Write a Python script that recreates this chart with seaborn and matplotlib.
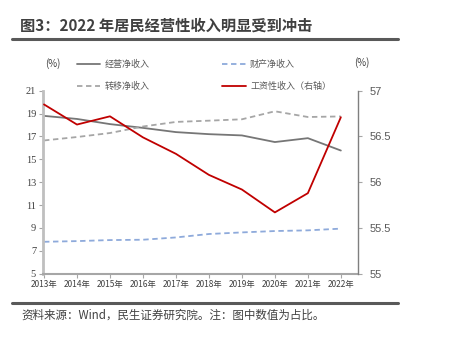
import matplotlib
matplotlib.use("Agg")
import matplotlib.pyplot as plt
import seaborn as sns
import pandas as pd
from matplotlib.lines import Line2D

sns.set_theme(style="white")
plt.rcParams['font.family'] = ['Noto Sans CJK SC', 'DejaVu Sans']

years = ["2013年", "2014年", "2015年", "2016年", "2017年", "2018年", "2019年", "2020年", "2021年", "2022年"]
business = [18.8, 18.53, 18.08, 17.75, 17.38, 17.2, 17.09, 16.51, 16.85, 15.77]
transfer = [16.65, 16.95, 17.3, 17.87, 18.27, 18.38, 18.5, 19.2, 18.7, 18.75]
property_ = [7.79, 7.85, 7.94, 7.97, 8.17, 8.47, 8.61, 8.73, 8.79, 8.94]
wage = [56.85, 56.63, 56.72, 56.49, 56.31, 56.08, 55.92, 55.67, 55.88, 56.71]
left_ticks = [5, 7, 9, 11, 13, 15, 17, 19, 21]
right_ticks = [55, 55.5, 56, 56.5, 57]

df = pd.DataFrame({"x": list(range(len(years))), "business": business,
                   "transfer": transfer, "property": property_, "wage": wage})

W, H = 453, 347
fig = plt.figure(figsize=(W / 100, H / 100), dpi=100)
ax = fig.add_axes([43 / W, 1 - 273.7 / H, (358 - 43) / W, (273.7 - 90.7) / H])
ax2 = ax.twinx()

c_bus, c_tr, c_prop, c_wage = "#767676", "#a6a6a6", "#8eaadb", "#c00000"
sns.lineplot(data=df, x="x", y="business", ax=ax, color=c_bus, linewidth=1.3)
sns.lineplot(data=df, x="x", y="transfer", ax=ax, color=c_tr, linewidth=1.3, linestyle=(0, (3, 2)))
sns.lineplot(data=df, x="x", y="property", ax=ax, color=c_prop, linewidth=1.3, linestyle=(0, (3, 2)))
sns.lineplot(data=df, x="x", y="wage", ax=ax2, color=c_wage, linewidth=1.3)

ax.set_xlim(-0.03, 9.52)
ax.set_ylim(5, 21)
ax2.set_ylim(55, 57)
ax.set_yticks(left_ticks)
ax.set_yticklabels([str(t) for t in left_ticks], family="Liberation Serif", fontsize=7.5, color="#404040")
ax2.set_yticks(right_ticks)
ax2.set_yticklabels([f"{t:g}" for t in right_ticks], family="Liberation Sans", fontsize=8, color="#595959")
ax.set_xticks(range(len(years)))
ax.set_xticklabels(years, fontsize=6, color="#404040")
for a in (ax, ax2):
    a.set_xlabel("")
    a.set_ylabel("")
    a.grid(False)
    a.spines["top"].set_visible(False)
ax.spines["right"].set_visible(False)
ax.spines["left"].set_color("#bfbfbf")
ax.spines["left"].set_linewidth(2.0)
ax.spines["bottom"].set_color("#a6a6a6")
ax.spines["bottom"].set_linewidth(1.5)
ax2.spines["left"].set_visible(False)
ax2.spines["bottom"].set_visible(False)
ax2.spines["right"].set_color("#7f7f7f")
ax2.spines["right"].set_linewidth(1.0)
ax.tick_params(axis="y", direction="out", length=3, width=0.8, color="#a6a6a6", pad=2, left=True)
ax.tick_params(axis="x", direction="out", length=3, width=0.8, color="#a6a6a6", pad=1.5, bottom=True)
ax2.tick_params(axis="y", direction="out", length=3, width=0.8, color="#a6a6a6", pad=5, right=True)

handles = [
    Line2D([], [], color=c_bus, lw=1.3),
    Line2D([], [], color=c_tr, lw=1.3, ls=(0, (3, 2))),
    Line2D([], [], color=c_prop, lw=1.3, ls=(0, (3, 2))),
    Line2D([], [], color=c_wage, lw=1.3),
]
labels = ["经营净收入", "转移净收入", "财产净收入", "工资性收入（右轴）"]
fig.legend(handles, labels, loc="upper left", bbox_to_anchor=(77 / W, 1 - 59.5 / H),
           ncol=2, frameon=False, fontsize=6.5, handlelength=2.6, handletextpad=0.5,
           columnspacing=8.0, labelspacing=1.45, borderpad=0, borderaxespad=0,
           labelcolor="#595959")

fig.text(45 / W, 1 - 64 / H, "(%)", fontsize=7, color="#404040", va="center", ha="left")
fig.text(354 / W, 1 - 63 / H, "(%)", fontsize=7, color="#404040", va="center", ha="left")

fig.text(20 / W, 1 - 25.5 / H, "图3：2022 年居民经营性收入明显受到冲击", fontsize=11,
         fontweight="bold", color="#404040", va="center", ha="left")
fig.add_artist(Line2D([12 / W, 398 / W], [1 - 39 / H, 1 - 39 / H], color="#595959", lw=2.2))
fig.add_artist(Line2D([12 / W, 398 / W], [1 - 303 / H, 1 - 303 / H], color="#595959", lw=2.2))
fig.text(21 / W, 1 - 315 / H, "资料来源：Wind，民生证券研究院。注：图中数值为占比。", fontsize=8.3,
         color="#404040", va="center", ha="left")

fig.savefig("out.png", dpi=100)
